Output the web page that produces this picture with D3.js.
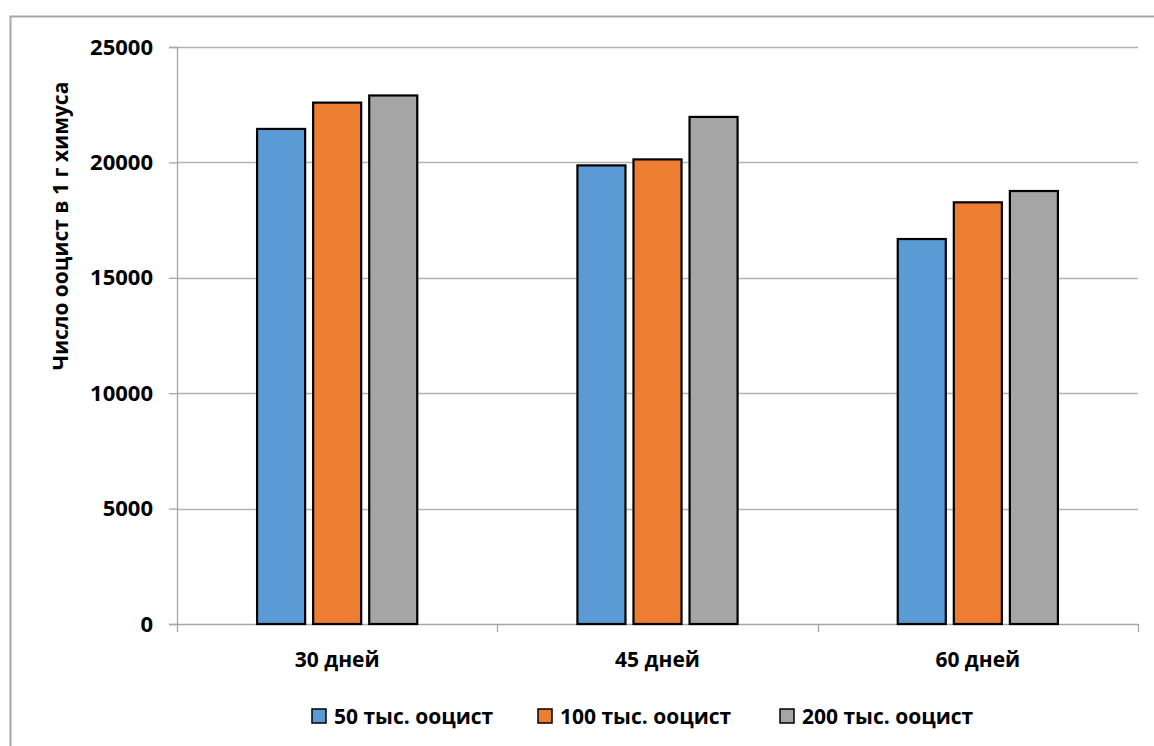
<!DOCTYPE html>
<html>
<head>
<meta charset="utf-8">
<script src="https://cdn.jsdelivr.net/npm/d3@7"></script>
<style>
  body { margin: 0; background: #fff; }
  svg text { font-family: "Open Sans", sans-serif; font-weight: bold; fill: #000; }
</style>
</head>
<body>
<div id="chart"></div>
<script>
// chart data
const categories = ['30 дней', '45 дней', '60 дней']
const seriesNames = ['50 тыс. ооцист', '100 тыс. ооцист', '200 тыс. ооцист']
const series50 = [21450, 19870, 16680]
const series100 = [22590, 20130, 18270]
const series200 = [22900, 21970, 18760]
const yTicks = [0, 5000, 10000, 15000, 20000, 25000]
const colors = ['#5b9bd5', '#ed7d31', '#a5a5a5']

const W = 1154
const H = 746
const margin = { top: 47, right: 16, bottom: 122, left: 177 }
const width = W - margin.left - margin.right
const height = H - margin.top - margin.bottom

const svg = d3.select('#chart')
    .append('svg')
    .attr('width', W)
    .attr('height', H)

// outer chart border (runs off the right and bottom edges)
svg.append('rect')
    .attr('x', 10.5)
    .attr('y', 16.5)
    .attr('width', 1160)
    .attr('height', 760)
    .attr('fill', 'none')
    .attr('stroke', '#a6a6a6')
    .attr('stroke-width', 2)

const g = svg.append('g')
    .attr('transform', `translate(${margin.left},${margin.top})`)

const x0 = d3.scaleBand()
    .domain(categories)
    .range([0, width])
    .paddingInner(0.5)
    .paddingOuter(0.25)

const x1 = d3.scaleBand()
    .domain(seriesNames)
    .range([0, x0.bandwidth()])
    .paddingInner(0.143)

const y = d3.scaleLinear()
    .domain([0, 25000])
    .range([height, 0])

// gridlines
g.selectAll('.grid')
    .data(yTicks.filter(d => d > 0))
    .enter()
    .append('line')
        .attr('x1', 0)
        .attr('x2', width)
        .attr('y1', d => Math.round(y(d)) + 0.5)
        .attr('y2', d => Math.round(y(d)) + 0.5)
        .attr('stroke', '#b3b3b3')
        .attr('stroke-width', 1.3)

// y axis
const yAxis = d3.axisLeft(y)
    .tickValues(yTicks)
    .tickSize(8)
    .tickPadding(16)
    .tickFormat(d => d)

const yGroup = g.append('g')
    .call(yAxis)
yGroup.selectAll('.domain, line').attr('stroke', '#a6a6a6').attr('stroke-width', 1.3)
yGroup.selectAll('text').style('font-size', '22px').style('font-family', '"Open Sans", sans-serif').style('font-weight', 'bold')

// x axis with ticks at category borders
const xAxisLine = g.append('g')
    .attr('transform', `translate(0,${height})`)
xAxisLine.append('line')
    .attr('x1', 0).attr('x2', width)
    .attr('y1', 0.5).attr('y2', 0.5)
    .attr('stroke', '#a6a6a6')
    .attr('stroke-width', 1.3)
xAxisLine.selectAll('.xtick')
    .data(d3.range(categories.length + 1))
    .enter()
    .append('line')
        .attr('x1', i => Math.round(i * x0.step()) + 0.5)
        .attr('x2', i => Math.round(i * x0.step()) + 0.5)
        .attr('y1', 0)
        .attr('y2', 8)
        .attr('stroke', '#a6a6a6')
        .attr('stroke-width', 1.3)
xAxisLine.selectAll('.xlabel')
    .data(categories)
    .enter()
    .append('text')
        .attr('x', d => x0(d) + x0.bandwidth() / 2)
        .attr('y', 43)
        .attr('text-anchor', 'middle')
        .style('font-size', '21px')
        .text(d => d)

// bars
const allSeries = [series50, series100, series200]
const barData = []
categories.forEach((c, ci) => {
    seriesNames.forEach((s, si) => {
        barData.push({ cat: c, name: s, value: allSeries[si][ci], color: colors[si] })
    })
})

g.selectAll('.bar')
    .data(barData)
    .enter()
    .append('rect')
        .attr('class', 'bar')
        .attr('x', d => x0(d.cat) + x1(d.name))
        .attr('y', d => y(d.value))
        .attr('width', x1.bandwidth())
        .attr('height', d => height - y(d.value))
        .attr('fill', d => d.color)
        .attr('stroke', '#000')
        .attr('stroke-width', 2.2)

// y axis title
svg.append('text')
    .attr('transform', 'translate(60,226) rotate(-90)')
    .attr('text-anchor', 'middle')
    .attr('dominant-baseline', 'central')
    .style('font-size', '21px')
    .text('Число ооцист в 1 г химуса')

// legend
const legendX = [312, 538, 780]
const legend = svg.selectAll('.legend')
    .data(seriesNames)
    .enter()
    .append('g')
        .attr('transform', (d, i) => `translate(${legendX[i]},709)`)
legend.append('rect')
    .attr('width', 14)
    .attr('height', 14)
    .attr('fill', (d, i) => colors[i])
    .attr('stroke', '#000')
    .attr('stroke-width', 1.5)
legend.append('text')
    .attr('x', 22)
    .attr('y', 7)
    .attr('dominant-baseline', 'central')
    .style('font-size', '21px')
    .text(d => d)
</script>
</body>
</html>
